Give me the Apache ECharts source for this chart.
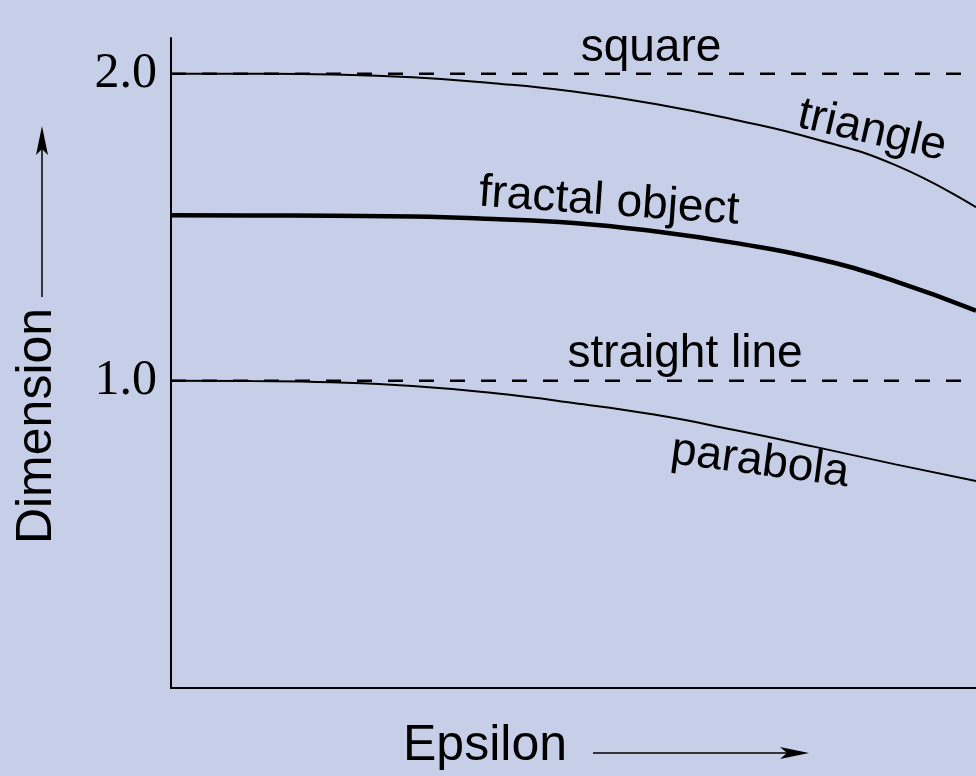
<!DOCTYPE html>
<html>
<head>
<meta charset="utf-8">
<script src="https://cdn.jsdelivr.net/npm/echarts@6/dist/echarts.min.js"></script>
<style>
html,body{margin:0;padding:0;background:#c7cfe8;}
#c{width:976px;height:776px;}
</style>
</head>
<body>
<div id="c"></div>
<script>
// Data (x in % of epsilon range, y = dimension)
var xSquare = [0, 100];
var ySquare = [2.0, 2.0];
var xLine = [0, 100];
var yLine = [1.0, 1.0];
var xSteps = [0, 10, 20, 30, 40, 50, 60, 70, 80, 90, 100];
var yTriangle = [2.0, 1.9995, 1.997, 1.988, 1.969, 1.942, 1.902, 1.850, 1.787, 1.702, 1.565];
var yFractal = [1.539, 1.5385, 1.537, 1.535, 1.527, 1.514, 1.487, 1.449, 1.399, 1.324, 1.228];
var yParabola = [1.0, 0.999, 0.995, 0.983, 0.960, 0.928, 0.890, 0.840, 0.785, 0.728, 0.674];
var yTickLabels = ['1.0', '2.0'];
var curveNames = ['square', 'triangle', 'fractal object', 'straight line', 'parabola'];
var xTitle = 'Epsilon';
var yTitle = 'Dimension';

function pairs(xs, ys){ return xs.map(function(x,i){ return [x, ys[i]]; }); }

var chart = echarts.init(document.getElementById('c'), null, {renderer:'canvas'});
var sansFont = '"Liberation Sans", Arial, sans-serif';
var labelSize = 46;
var titleSize = 50;
var deg = Math.PI/180;

var option = {
  backgroundColor: '#c7cfe8',
  animation: false,
  grid: {left:171, right:0, top:38, bottom:88, containLabel:false},
  xAxis: {
    type:'value', min:0, max:100,
    axisLine:{show:true, onZero:false, lineStyle:{color:'#000', width:2}},
    axisTick:{show:false}, axisLabel:{show:false}, splitLine:{show:false}
  },
  yAxis: {
    type:'value', min:0, max:2.116, interval:1,
    axisLine:{show:true, onZero:false, lineStyle:{color:'#000', width:2}},
    axisTick:{show:false}, splitLine:{show:false},
    axisLabel:{
      show:true, margin:14, color:'#000',
      fontFamily:'"Liberation Serif", "Times New Roman", serif', fontSize:50,
      formatter:function(v){
        var idx = yTickLabels.indexOf(v.toFixed(1));
        return (v > 0.5 && v < 2.05 && idx >= 0) ? yTickLabels[idx] : '';
      },
      showMaxLabel:false
    }
  },
  series: [
    {name:curveNames[0], type:'line', data:pairs(xSquare, ySquare), symbol:'none',
     lineStyle:{color:'#000', width:2.5, type:[15,16]}},
    {name:curveNames[3], type:'line', data:pairs(xLine, yLine), symbol:'none',
     lineStyle:{color:'#000', width:2.5, type:[15,16]}},
    {name:curveNames[1], type:'line', data:pairs(xSteps, yTriangle), symbol:'none', smooth:0.5,
     lineStyle:{color:'#000', width:2}},
    {name:curveNames[2], type:'line', data:pairs(xSteps, yFractal), symbol:'none', smooth:0.5,
     lineStyle:{color:'#000', width:4.5}},
    {name:curveNames[4], type:'line', data:pairs(xSteps, yParabola), symbol:'none', smooth:0.5,
     lineStyle:{color:'#000', width:2}}
  ],
  graphic: [
    {type:'text', x:651, y:48, style:{text:curveNames[0], font:labelSize+'px '+sansFont, fill:'#000', textAlign:'center', textVerticalAlign:'middle'}},
    {type:'text', x:872, y:131, rotation:-13*deg, style:{text:curveNames[1], font:labelSize+'px '+sansFont, fill:'#000', textAlign:'center', textVerticalAlign:'middle'}},
    {type:'text', x:609, y:202, rotation:-4*deg, style:{text:curveNames[2], font:labelSize+'px '+sansFont, fill:'#000', textAlign:'center', textVerticalAlign:'middle'}},
    {type:'text', x:685, y:354, style:{text:curveNames[3], font:labelSize+'px '+sansFont, fill:'#000', textAlign:'center', textVerticalAlign:'middle'}},
    {type:'text', x:760, y:462, rotation:-7.5*deg, style:{text:curveNames[4], font:labelSize+'px '+sansFont, fill:'#000', textAlign:'center', textVerticalAlign:'middle'}},
    // x-axis title + arrow
    {type:'text', x:485, y:746, style:{text:xTitle, font:titleSize+'px '+sansFont, fill:'#000', textAlign:'center', textVerticalAlign:'middle'}},
    {type:'line', shape:{x1:593, y1:753, x2:790, y2:753}, style:{stroke:'#000', lineWidth:1.5}},
    {type:'polygon', shape:{points:[[809,753],[780,747],[787,753],[780,759]]}, style:{fill:'#000'}},
    // y-axis title + arrow
    {type:'text', x:37, y:426, rotation:90*deg, style:{text:yTitle, font:titleSize+'px '+sansFont, fill:'#000', textAlign:'center', textVerticalAlign:'middle'}},
    {type:'line', shape:{x1:42, y1:297, x2:42, y2:145}, style:{stroke:'#000', lineWidth:1.5}},
    {type:'polygon', shape:{points:[[42,126],[36,155],[42,149],[48,155]]}, style:{fill:'#000'}}
  ]
};
chart.setOption(option);
</script>
</body>
</html>
